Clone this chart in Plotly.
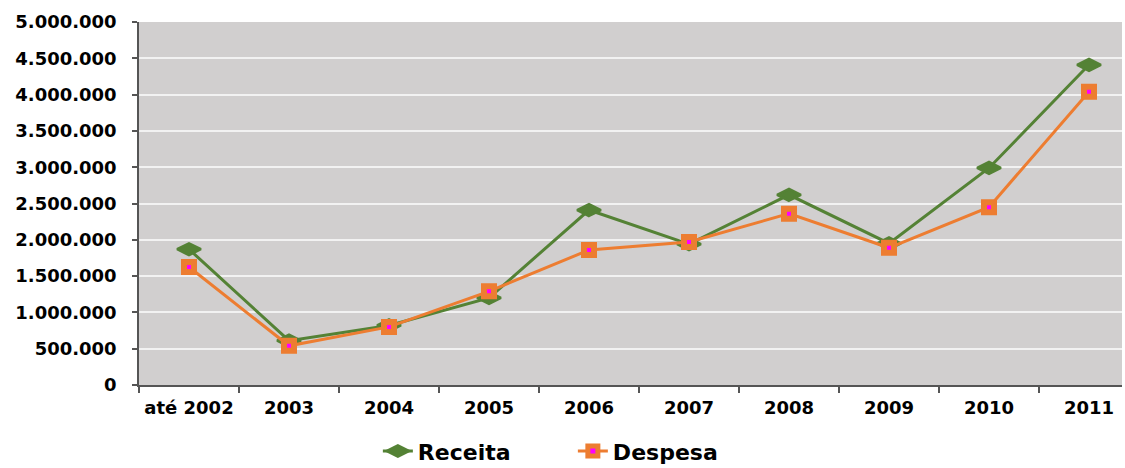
import plotly.graph_objects as go

categories = ["até 2002", "2003", "2004", "2005", "2006", "2007", "2008", "2009", "2010", "2011"]
receita = [1870000, 610000, 820000, 1200000, 2410000, 1940000, 2620000, 1950000, 2990000, 4410000]
despesa = [1625000, 540000, 800000, 1290000, 1860000, 1970000, 2360000, 1890000, 2450000, 4040000]
y_ticks = list(range(0, 5000001, 500000))

GREEN = "#548235"
ORANGE = "#ed7d31"
MAGENTA = "#ff00ff"
FONT = "DejaVu Sans"

fig = go.Figure()
fig.add_trace(go.Scatter(
    x=categories, y=receita, name="Receita", mode="lines+markers",
    line=dict(color=GREEN, width=3),
    marker=dict(symbol="diamond-wide", size=17, color=GREEN, line=dict(color=GREEN, width=2.5)),
))
fig.add_trace(go.Scatter(
    x=categories, y=despesa, name="Despesa", mode="lines+markers",
    line=dict(color=ORANGE, width=3),
    marker=dict(symbol="square", size=10, color=MAGENTA, line=dict(color=ORANGE, width=6)),
))

fig.update_layout(
    width=1125, height=468,
    margin=dict(l=139, r=3, t=22, b=83, autoexpand=False),
    paper_bgcolor="white",
    plot_bgcolor="#d1cfcf",
    separators=",.",
    font=dict(family=FONT, size=18, color="#000000"),
    showlegend=True,
    legend=dict(
        orientation="h", x=0.243, xanchor="left",
        yref="container", y=0.036, yanchor="middle",
        font=dict(family=FONT, size=22, color="#000000", weight="bold"),
        entrywidth=150, entrywidthmode="pixels",
        bgcolor="rgba(0,0,0,0)",
    ),
)
fig.update_xaxes(
    type="category", range=[-0.5, 9.33],
    showgrid=False, showline=True, linecolor="#555555", linewidth=1.5,
    ticks="outside", tickson="boundaries", ticklen=6, tickcolor="#555555", tickwidth=1.5,
    ticklabelstandoff=6,
    tickfont=dict(family=FONT, size=18, color="#000000", weight="bold"),
    zeroline=False,
)
fig.update_yaxes(
    range=[0, 5000000], tickvals=y_ticks, tickformat=",d",
    showgrid=True, gridcolor="#f2f2f2", gridwidth=1.5,
    showline=True, linecolor="#555555", linewidth=1.5,
    ticks="outside", ticklen=5, tickcolor="#555555", tickwidth=1.5,
    ticklabelstandoff=12,
    tickfont=dict(family=FONT, size=18, color="#000000", weight="bold"),
    zeroline=False,
)

fig.write_html("out.html")
